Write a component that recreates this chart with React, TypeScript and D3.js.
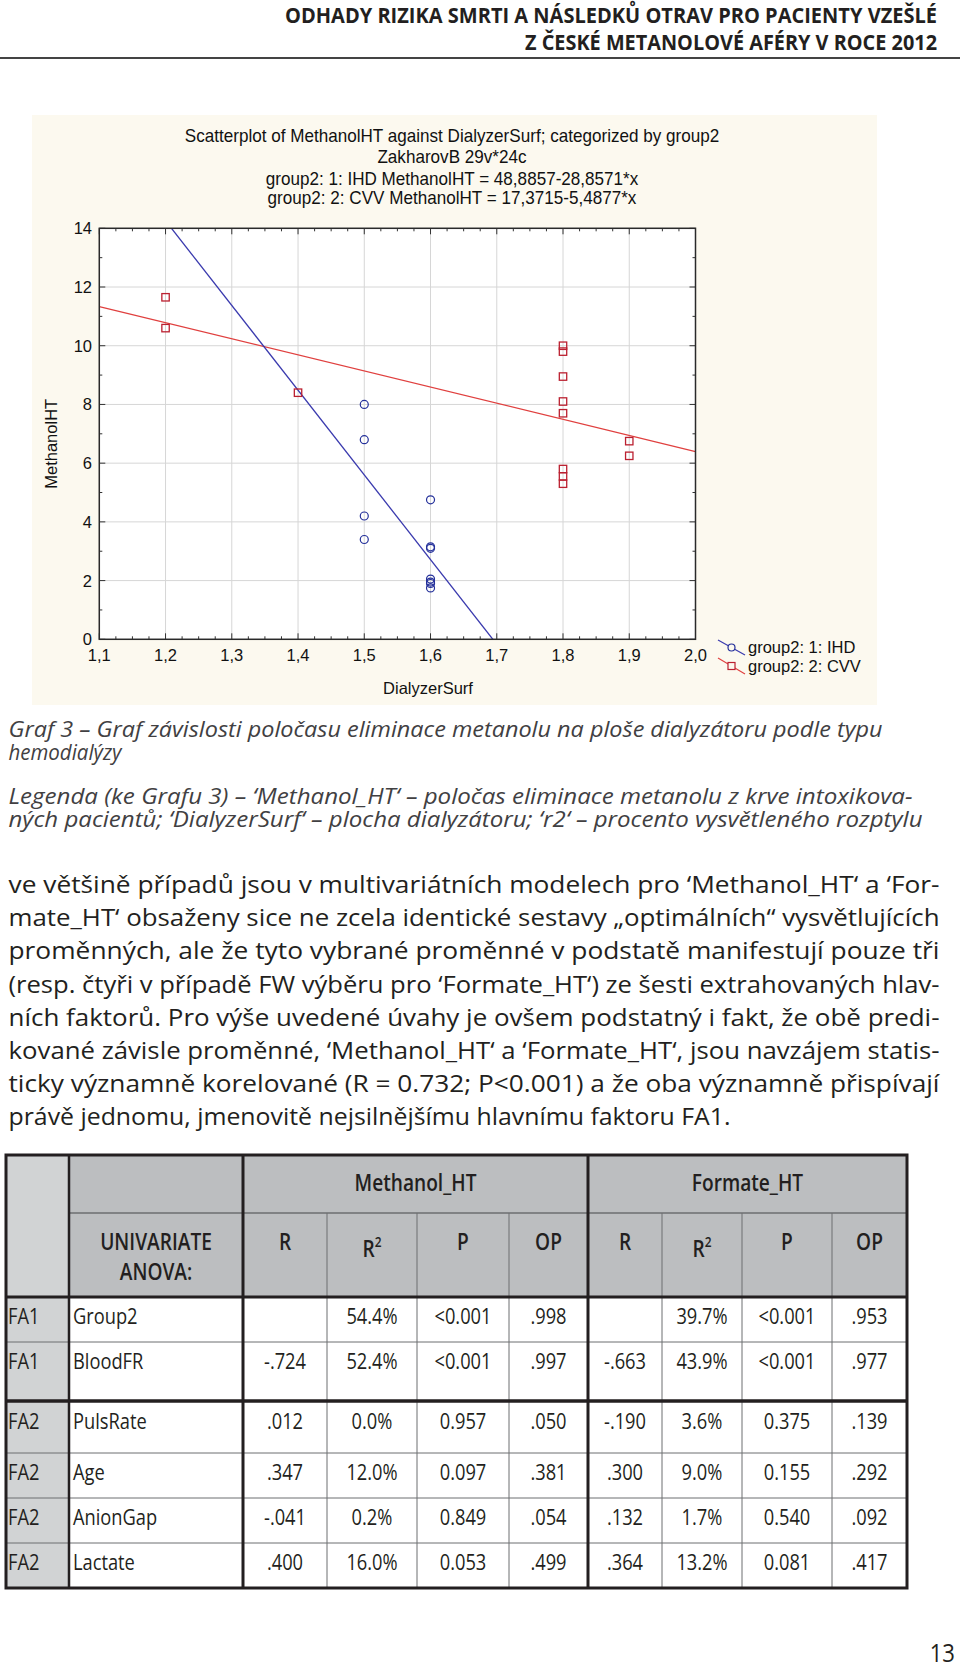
import React from 'react';
import * as d3 from 'd3';

// ---------- DATA ----------
const HEADER_LINES = [
  'ODHADY RIZIKA SMRTI A NÁSLEDKŮ OTRAV PRO PACIENTY VZEŠLÉ',
  'Z ČESKÉ METANOLOVÉ AFÉRY V ROCE 2012',
];
const CHART_TITLES = [
  'Scatterplot of MethanolHT against DialyzerSurf; categorized by group2',
  'ZakharovB 29v*24c',
  'group2: 1: IHD MethanolHT = 48,8857-28,8571*x',
  'group2: 2: CVV MethanolHT = 17,3715-5,4877*x',
];
const X_TICKS = [1.1, 1.2, 1.3, 1.4, 1.5, 1.6, 1.7, 1.8, 1.9, 2.0];
const Y_TICKS = [0, 2, 4, 6, 8, 10, 12, 14];
const X_LABEL = 'DialyzerSurf';
const Y_LABEL = 'MethanolHT';

const IHD_X = [1.5, 1.5, 1.5, 1.5, 1.6, 1.6, 1.6, 1.6, 1.6, 1.6, 1.6];
const IHD_Y = [8.0, 6.8, 4.2, 3.4, 4.75, 3.15, 3.1, 2.05, 1.95, 1.9, 1.75];
const CVV_X = [1.2, 1.2, 1.4, 1.8, 1.8, 1.8, 1.8, 1.8, 1.8, 1.8, 1.8, 1.9, 1.9];
const CVV_Y = [11.65, 10.6, 8.4, 10.0, 9.8, 8.95, 8.1, 7.7, 5.8, 5.55, 5.3, 6.75, 6.25];
const IHD_FIT = [48.8857, -28.8571];
const CVV_FIT = [17.3715, -5.4877];
const LEGEND = ['group2: 1: IHD', 'group2: 2: CVV'];

const CAPTION_LINES = [
  'Graf 3 – Graf závislosti poločasu eliminace metanolu na ploše dialyzátoru podle typu',
  'hemodialýzy',
  'Legenda (ke Grafu 3) – ‘Methanol_HT‘ – poločas eliminace metanolu z krve intoxikova-',
  'ných pacientů; ‘DialyzerSurf‘ – plocha dialyzátoru; ‘r2‘ – procento vysvětleného rozptylu',
];
const BODY_LINES = [
  've většině případů jsou v multivariátních modelech pro ‘Methanol_HT‘ a ‘For-',
  'mate_HT‘ obsaženy sice ne zcela identické sestavy „optimálních“ vysvětlujících',
  'proměnných, ale že tyto vybrané proměnné v podstatě manifestují pouze tři',
  '(resp. čtyři v případě FW výběru pro ‘Formate_HT‘) ze šesti extrahovaných hlav-',
  'ních faktorů. Pro výše uvedené úvahy je ovšem podstatný i fakt, že obě predi-',
  'kované závisle proměnné, ‘Methanol_HT‘ a ‘Formate_HT‘, jsou navzájem statis-',
  'ticky významně korelované (R = 0.732; P<0.001) a že oba významně přispívají',
  'právě jednomu, jmenovitě nejsilnějšímu hlavnímu faktoru FA1.',
];

const TABLE_GROUPS = ['Methanol_HT', 'Formate_HT'];
const TABLE_SUBHEAD = ['R', 'R2', 'P', 'OP'];
const TABLE_FACTORS = ['FA1', 'FA1', 'FA2', 'FA2', 'FA2', 'FA2'];
const TABLE_VARS = ['Group2', 'BloodFR', 'PulsRate', 'Age', 'AnionGap', 'Lactate'];
const METH_R = ['', '-.724', '.012', '.347', '-.041', '.400'];
const METH_R2 = ['54.4%', '52.4%', '0.0%', '12.0%', '0.2%', '16.0%'];
const METH_P = ['<0.001', '<0.001', '0.957', '0.097', '0.849', '0.053'];
const METH_OP = ['.998', '.997', '.050', '.381', '.054', '.499'];
const FORM_R = ['', '-.663', '-.190', '.300', '.132', '.364'];
const FORM_R2 = ['39.7%', '43.9%', '3.6%', '9.0%', '1.7%', '13.2%'];
const FORM_P = ['<0.001', '<0.001', '0.375', '0.155', '0.540', '0.081'];
const FORM_OP = ['.953', '.977', '.139', '.292', '.092', '.417'];
const PAGE_NUMBER = '13';

// ---------- LAYOUT ----------
const W = 960;
const H = 1669;
const PL = 99.3, PR = 695.5, PT = 228.3, PB = 639.3;
const DARK = '#231f20';
const SANS = 'Open Sans, Noto Sans, sans-serif';
const ARIAL = 'Liberation Sans, Arial, sans-serif';

const x = d3.scaleLinear().domain([1.1, 2.0]).range([PL, PR]);
const y = d3.scaleLinear().domain([0, 14]).range([PB, PT]);
const fmt = (v: number) => d3.format('.1f')(v).replace('.', ',');

const COLS = [6, 69, 243, 327, 417, 509, 588, 662, 742, 832, 907];
const ROWS = [1297, 1342, 1401, 1453, 1498, 1543, 1588];
const T_TOP = 1155, T_MID = 1213;

function CText(props: any) {
  const { x: tx, y: ty, sx = 0.85, anchor = 'middle', children, ...rest } = props;
  return (
    <text transform={`translate(${tx},${ty}) scale(${sx},1)`} textAnchor={anchor} {...rest}>
      {children}
    </text>
  );
}

function Scatter() {
  const xMinor = d3.range(0, 37).map((i) => 1.1 + i * 0.025);
  const yMinor = d3.range(0, 15);
  const fitPath = (c: number[]) => {
    const xs = [1.1, 2.0];
    return d3.line<number>().x((d) => x(d)).y((d) => y(c[0] + c[1] * d))(xs) || '';
  };
  return (
    <g>
      <rect x={32} y={115} width={845} height={590} fill="#fcf9ef" />
      {CHART_TITLES.map((t, i) => (
        <CText
          key={i}
          x={452}
          y={[142, 163, 185, 204][i]}
          sx={0.95}
          fontFamily={ARIAL}
          fontSize={18}
          fill="#111"
        >
          {t}
        </CText>
      ))}
      <rect x={PL} y={PT} width={PR - PL} height={PB - PT} fill="#ffffff" />
      <defs>
        <clipPath id="plotclip">
          <rect x={PL} y={PT} width={PR - PL} height={PB - PT} />
        </clipPath>
      </defs>
      {X_TICKS.map((t) => (
        <line key={'gx' + t} x1={x(t)} x2={x(t)} y1={PT} y2={PB} stroke="#d6d6d6" strokeWidth={1} />
      ))}
      {Y_TICKS.map((t) => (
        <line key={'gy' + t} x1={PL} x2={PR} y1={y(t)} y2={y(t)} stroke="#d6d6d6" strokeWidth={1} />
      ))}
      {xMinor.map((t, i) => {
        const len = i % 4 === 0 ? 6 : 3;
        return (
          <g key={'mx' + i}>
            <line x1={x(t)} x2={x(t)} y1={PB} y2={PB - len} stroke="#333" strokeWidth={1} />
            <line x1={x(t)} x2={x(t)} y1={PT} y2={PT + len} stroke="#333" strokeWidth={1} />
          </g>
        );
      })}
      {yMinor.map((t, i) => {
        const len = i % 2 === 0 ? 6 : 3;
        return (
          <g key={'my' + i}>
            <line x1={PL} x2={PL + len} y1={y(t)} y2={y(t)} stroke="#333" strokeWidth={1} />
            <line x1={PR} x2={PR - len} y1={y(t)} y2={y(t)} stroke="#333" strokeWidth={1} />
          </g>
        );
      })}
      <g clipPath="url(#plotclip)">
        <path d={fitPath(CVV_FIT)} stroke="#e0403f" strokeWidth={1.3} fill="none" />
        <path d={fitPath(IHD_FIT)} stroke="#3a3aae" strokeWidth={1.3} fill="none" />
      </g>
      {IHD_X.map((xv, i) => (
        <circle key={'c' + i} cx={x(xv)} cy={y(IHD_Y[i])} r={4} fill="none" stroke="#24309a" strokeWidth={1.2} />
      ))}
      {CVV_X.map((xv, i) => (
        <rect
          key={'s' + i}
          x={x(xv) - 3.7}
          y={y(CVV_Y[i]) - 3.7}
          width={7.4}
          height={7.4}
          fill="none"
          stroke="#bb2030"
          strokeWidth={1.3}
        />
      ))}
      <rect x={PL} y={PT} width={PR - PL} height={PB - PT} fill="none" stroke="#2a2a2a" strokeWidth={1.5} />
      {X_TICKS.map((t) => (
        <text key={'xl' + t} x={x(t)} y={661} textAnchor="middle" fontFamily={ARIAL} fontSize={16.5} fill="#111">
          {fmt(t)}
        </text>
      ))}
      {Y_TICKS.map((t) => (
        <text key={'yl' + t} x={92} y={y(t) + 6} textAnchor="end" fontFamily={ARIAL} fontSize={16.5} fill="#111">
          {t}
        </text>
      ))}
      <text x={428} y={694} textAnchor="middle" fontFamily={ARIAL} fontSize={16.5} fill="#111">
        {X_LABEL}
      </text>
      <text
        transform={`translate(57,${(PT + PB) / 2 + 10}) rotate(-90)`}
        textAnchor="middle"
        fontFamily={ARIAL}
        fontSize={16.5}
        fill="#111"
      >
        {Y_LABEL}
      </text>
      {/* legend */}
      <line x1={718} y1={640} x2={745} y2={655} stroke="#3a3aae" strokeWidth={1.2} />
      <circle cx={731.5} cy={647.5} r={3.5} fill="#fcf9ef" stroke="#24309a" strokeWidth={1.2} />
      <text x={748} y={653} fontFamily={ARIAL} fontSize={16.5} fill="#111">
        {LEGEND[0]}
      </text>
      <line x1={718} y1={658} x2={745} y2={674} stroke="#e0403f" strokeWidth={1.2} />
      <rect x={728} y={662.5} width={7} height={7} fill="#fcf9ef" stroke="#bb2030" strokeWidth={1.2} />
      <text x={748} y={672} fontFamily={ARIAL} fontSize={16.5} fill="#111">
        {LEGEND[1]}
      </text>
    </g>
  );
}

function Table() {
  const methCols = [METH_R, METH_R2, METH_P, METH_OP];
  const formCols = [FORM_R, FORM_R2, FORM_P, FORM_OP];
  const allCols = [...methCols, ...formCols];
  const cx = (i: number) => (COLS[i] + COLS[i + 1]) / 2;
  const TB = ROWS[ROWS.length - 1];
  const thin = '#6d6e71';
  const subhead = (label: string, colIdx: number) => {
    if (label === 'R2') {
      return (
        <CText key={'sh' + colIdx} x={cx(colIdx)} y={1257} fontFamily={SANS} fontWeight={600} fontSize={22.5} fill={DARK}>
          R<tspan fontSize={14} dy={-10}>2</tspan>
        </CText>
      );
    }
    return (
      <CText key={'sh' + colIdx} x={cx(colIdx)} y={1250} fontFamily={SANS} fontWeight={600} fontSize={22.5} fill={DARK}>
        {label}
      </CText>
    );
  };
  return (
    <g>
      <rect x={COLS[1]} y={T_TOP} width={COLS[10] - COLS[1]} height={ROWS[0] - T_TOP} fill="#bcbec0" />
      <rect x={COLS[0]} y={T_TOP} width={COLS[1] - COLS[0]} height={TB - T_TOP} fill="#d1d3d4" />
      {[3, 4, 5, 7, 8, 9].map((c) => (
        <line key={'v' + c} x1={COLS[c]} x2={COLS[c]} y1={T_MID} y2={TB} stroke={thin} strokeWidth={1} />
      ))}
      <line x1={COLS[1]} x2={COLS[10]} y1={T_MID} y2={T_MID} stroke={thin} strokeWidth={1.5} />
      {ROWS.slice(1, ROWS.length - 1).map((r, i) =>
        i === 1 ? null : <line key={'h' + i} x1={COLS[0]} x2={COLS[10]} y1={r} y2={r} stroke={thin} strokeWidth={1} />
      )}
      <line x1={COLS[0]} x2={COLS[10]} y1={ROWS[0]} y2={ROWS[0]} stroke={DARK} strokeWidth={3} />
      <line x1={COLS[0]} x2={COLS[10]} y1={ROWS[2]} y2={ROWS[2]} stroke={DARK} strokeWidth={3.5} />
      {[1, 2, 6].map((c) => (
        <line key={'tv' + c} x1={COLS[c]} x2={COLS[c]} y1={T_TOP} y2={TB} stroke={DARK} strokeWidth={c === 1 ? 2.5 : 3} />
      ))}
      <rect x={COLS[0]} y={T_TOP} width={COLS[10] - COLS[0]} height={TB - T_TOP} fill="none" stroke={DARK} strokeWidth={3} />
      <CText x={(COLS[2] + COLS[6]) / 2} y={1191} fontFamily={SANS} fontWeight={600} fontSize={22.5} fill={DARK}>
        {TABLE_GROUPS[0]}
      </CText>
      <CText x={(COLS[6] + COLS[10]) / 2} y={1191} fontFamily={SANS} fontWeight={600} fontSize={22.5} fill={DARK}>
        {TABLE_GROUPS[1]}
      </CText>
      <CText x={cx(1)} y={1250} fontFamily={SANS} fontWeight={600} fontSize={22.5} fill={DARK}>
        UNIVARIATE
      </CText>
      <CText x={cx(1)} y={1280} fontFamily={SANS} fontWeight={600} fontSize={22.5} fill={DARK}>
        ANOVA:
      </CText>
      {TABLE_SUBHEAD.map((s, i) => subhead(s, 2 + i))}
      {TABLE_SUBHEAD.map((s, i) => subhead(s, 6 + i))}
      {TABLE_VARS.map((v, r) => {
        const by = ROWS[r] + 27 + (r === 2 ? 1 : 0);
        return (
          <g key={'row' + r}>
            <CText x={8} y={by} anchor="start" fontFamily={SANS} fontSize={21.5} fill={DARK}>
              {TABLE_FACTORS[r]}
            </CText>
            <CText x={73} y={by} anchor="start" fontFamily={SANS} fontSize={21.5} fill={DARK}>
              {v}
            </CText>
            {allCols.map((col, c) => (
              <CText key={'d' + c} x={cx(2 + c)} y={by} fontFamily={SANS} fontSize={21.5} fill={DARK}>
                {col[r]}
              </CText>
            ))}
          </g>
        );
      })}
    </g>
  );
}

export default function App() {
  return (
    <svg
      width={W}
      height={H}
      viewBox={`0 0 ${W} ${H}`}
      style={{ position: 'absolute', left: 0, top: 0, display: 'block', background: '#fff' }}
    >
      <rect x={0} y={0} width={W} height={H} fill="#fff" />
      {HEADER_LINES.map((t, i) => (
        <text
          key={i}
          x={937}
          y={[23, 49.5][i]}
          textAnchor="end"
          fontFamily={SANS}
          fontWeight={700}
          fontSize={21.5}
          fill={DARK}
          textLength={[652, 412][i]}
          lengthAdjust="spacingAndGlyphs"
        >
          {t}
        </text>
      ))}
      <line x1={0} x2={W} y1={58} y2={58} stroke="#444" strokeWidth={2} />
      <Scatter />
      {CAPTION_LINES.map((t, i) => (
        <text
          key={i}
          x={8.5}
          y={[737, 760, 804, 827][i]}
          fontFamily={SANS}
          fontStyle="italic"
          fontSize={21.5}
          fill="#414042"
          textLength={[874, 113, 904, 914][i]}
          lengthAdjust="spacingAndGlyphs"
        >
          {t}
        </text>
      ))}
      {BODY_LINES.map((t, i) => (
        <text
          key={i}
          x={8.5}
          y={893 + i * 33.2}
          fontFamily={SANS}
          fontSize={23}
          fill={DARK}
          textLength={i === BODY_LINES.length - 1 ? 722 : 931}
          lengthAdjust="spacingAndGlyphs"
        >
          {t}
        </text>
      ))}
      <Table />
      <CText x={955} y={1662} anchor="end" fontFamily={SANS} fontSize={26} fill={DARK}>
        {PAGE_NUMBER}
      </CText>
    </svg>
  );
}
